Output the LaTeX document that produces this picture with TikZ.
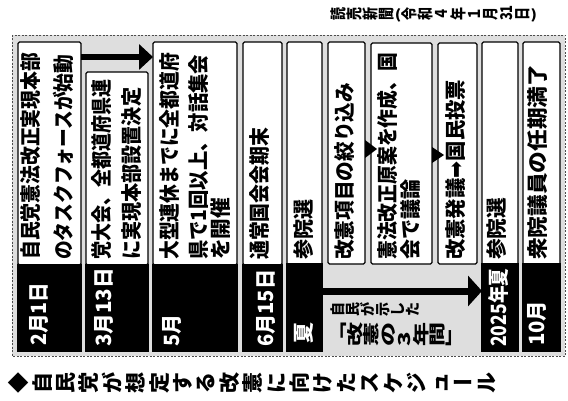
\documentclass[tikz,border=0pt]{standalone}
\usepackage{fontspec}
\usepackage{graphicx}
\usetikzlibrary{arrows.meta}
\newfontfamily\jp{Noto Sans CJK JP}
\newfontfamily\dv{DejaVu Sans}
\makeatletter
\newcommand\vtsep{0pt}
\newcommand\vt[1]{\@tfor\vt@x:=#1\do{\vt@one}}
\newcommand\vt@one{%
  \expandafter\in@\expandafter{\vt@x}{ー「」（）()}%
  \ifin@\raisebox{0.12em}{\vt@x}\else\rotatebox{90}{\rule[-0.12em]{0pt}{1em}\vt@x}\fi
  \kern\vtsep\relax}
\makeatother
\newcommand\fit[2]{\resizebox{#1pt}{\height}{#2}}
\begin{document}
\begin{tikzpicture}[x=1pt,y=-1pt,
  bg/.style={fill=black!13},
  wbox/.style={draw=black,line width=1.2pt,fill=white,rounded corners=1.5pt,inner sep=0,outer sep=0,anchor=north west},
  kbox/.style={fill=black,draw=black,line width=1.2pt,inner sep=0,outer sep=0,anchor=north west},
  tx/.style={rotate=90,anchor=west,inner sep=0,font=\jp\bfseries\fontsize{21}{21}\selectfont},
  dt/.style={tx,text=white},
  vtx/.style={anchor=base west,inner sep=0},
  bigarrow/.style={line width=#1}]
\useasboundingbox (0,0) rectangle (568,401);
\fill[white] (0,0) rectangle (568,401);
% background frame
\fill[bg] (12,35) rectangle (565,356);
\draw[black!70,line width=0.8pt,dash pattern=on 2pt off 1.5pt] (12,35) rectangle (565,356);
% white boxes
\node[wbox,minimum width=63pt,minimum height=223pt] (w1) at (18,42) {};
\node[wbox,minimum width=62pt,minimum height=193pt] (w2) at (86,72) {};
\node[wbox,minimum width=84pt,minimum height=223pt] (w3) at (153,42) {};
\node[wbox,minimum width=39pt,minimum height=223pt] (w4) at (243,42) {};
\node[wbox,minimum width=35pt,minimum height=223pt] (w5) at (287,42) {};
\node[wbox,minimum width=37pt,minimum height=222pt] (w6) at (328,42) {};
\node[wbox,minimum width=61pt,minimum height=221pt] (w7) at (371,43) {};
\node[wbox,minimum width=39pt,minimum height=221pt] (w8) at (438,43) {};
\node[wbox,minimum width=36pt,minimum height=223pt] (w9) at (482,42) {};
\node[wbox,minimum width=37pt,minimum height=223pt] (w10) at (523,42) {};
% black date boxes
\node[kbox,minimum width=63pt,minimum height=86pt] (k1) at (18,265) {};
\node[kbox,minimum width=62pt,minimum height=86pt] (k2) at (86,265) {};
\node[kbox,minimum width=84pt,minimum height=86pt] (k3) at (153,265) {};
\node[kbox,minimum width=39pt,minimum height=86pt] (k4) at (243,265) {};
\node[kbox,minimum width=35pt,minimum height=87pt] (k5) at (287,264) {};
\node[kbox,minimum width=36pt,minimum height=87pt] (k9) at (482,264) {};
\node[kbox,minimum width=37pt,minimum height=87pt] (k10) at (523,264) {};
% arrows
\coordinate (ya) at (0,57);
\coordinate (yb) at (0,291);
\draw[bigarrow=6.5pt,-{Triangle[length=14pt,width=25pt]}] (w1.east |- ya) -- (w3.west |- ya);
\draw[bigarrow=7pt,-{Triangle[length=14pt,width=30pt]}] (k5.east |- yb) -- (k9.west |- yb);
% flow markers
\coordinate (m1) at (0,140);
\coordinate (m2) at (0,147);
\fill (w6.east |- m1) -- ++(12,9) -- ++(-12,9) -- cycle;
\fill (w7.east |- m2) -- ++(12,8) -- ++(-12,8) -- cycle;
% box texts
\node[tx] (t1a) at (31,260) {\fit{207}{自民党憲法改正実現本部}};
\node[tx] (t1b) at (63,260) {\fit{205}{のタスクフォースが始動}};
\node[tx] (t2a) at (102,260) {\fit{180}{党大会、全都道府県連}};
\node[tx] (t2b) at (132,260) {\fit{172}{に実現本部設置決定}};
\node[tx] (t3a) at (170,260) {\fit{207}{大型連休までに全都道府}};
\node[tx] (t3b) at (199,260) {\fit{205}{県で1回以上、対話集会}};
\node[tx] (t3c) at (221,260) {\fit{62}{を開催}};
\node[tx] (t4) at (260,260) {\fit{132}{通常国会会期末}};
\node[tx] (t5) at (304,260) {\fit{60}{参院選}};
\node[tx] (t6) at (345,260) {\fit{177}{改憲項目の絞り込み}};
\node[tx] (t7a) at (387,260) {\fit{207}{憲法改正原案を作成、国}};
\node[tx] (t7b) at (411,260) {\fit{80}{会で議論}};
\node[tx] (t8) at (456,260) {\fit{180}{改憲発議{\dv\mdseries ➡}国民投票}};
\node[tx] (t9) at (497,260) {\fit{62}{参院選}};
\node[tx] (t10) at (538,260) {\fit{195}{衆院議員の任期満了}};
% dates
\node[dt] (d1) at (39,346) {\fit{63}{2月1日}};
\node[dt] (d2) at (104,347) {\fit{79}{3月13日}};
\node[dt] (d3) at (172,347) {\fit{32}{5月}};
\node[dt] (d4) at (266,347) {\fit{77}{6月15日}};
\node[dt] (d5) at (304,344) {\fit{21}{夏}};
\node[dt] (d9) at (498,347) {\fit{78}{2025年夏}};
\node[dt] (d10) at (537,346) {\fit{45}{10月}};
% vertical texts
\node[vtx,font=\jp\bfseries\fontsize{14}{14}\selectfont] (n1) at (330,316) {\fit{90}{\vt{自民が示した}}};
\node[vtx,font=\jp\bfseries\fontsize{24}{24}\selectfont] (n2) at (330,346) {\fit{132}{\vt{「改憲の3年間」}}};
\node[vtx,font=\jp\bfseries\fontsize{13}{13}\selectfont] (src) at (330,21) {\fit{207}{\vt{読売新聞(令和４年１月{31}日)}}};
\node[vtx,font=\jp\bfseries\fontsize{21}{21}\selectfont] (title) at (8,393) {\def\vtsep{2.4pt}\vt{◆自民党が想定する改憲に向けたスケジュール}};
\end{tikzpicture}
\end{document}
